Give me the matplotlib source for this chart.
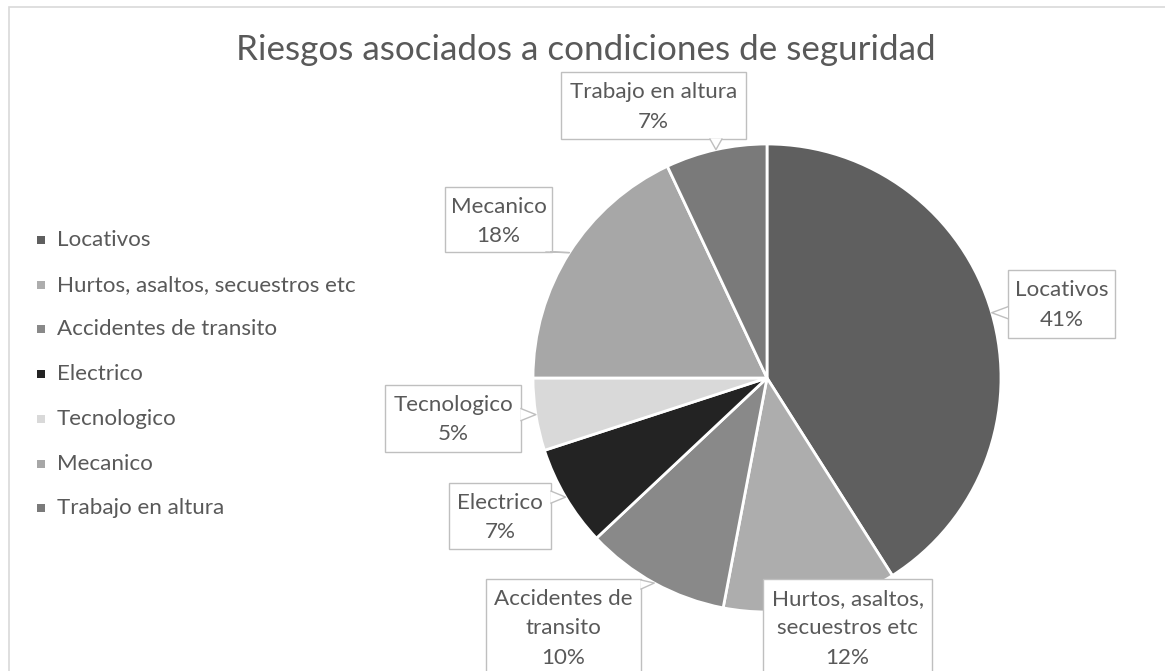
import matplotlib
matplotlib.use("Agg")
import numpy as np
import matplotlib.pyplot as plt
from matplotlib.patches import Rectangle, Polygon

# data
categories = ["Locativos", "Hurtos, asaltos, secuestros etc", "Accidentes de transito",
              "Electrico", "Tecnologico", "Mecanico", "Trabajo en altura"]
label_names = ["Locativos", "Hurtos, asaltos,\nsecuestros etc", "Accidentes de\ntransito",
               "Electrico", "Tecnologico", "Mecanico", "Trabajo en altura"]
values = [41, 12, 10, 7, 5, 18, 7]
colors = ["#5f5f5f", "#adadad", "#898989", "#232323", "#d9d9d9", "#a7a7a7", "#7a7a7a"]
title = "Riesgos asociados a condiciones de seguridad"

# label boxes in pixels (left, top, right, bottom)
boxes = [(1008, 270, 1115, 338), (763, 579, 932, 700), (486, 579, 641, 700),
         (449, 483, 551, 549), (385, 385, 521, 452), (445, 187, 552, 252),
         (561, 72, 746, 139)]

W, H = 1165, 671
txt_color = "#595959"
plt.rcParams['font.family'] = ['Lato', 'DejaVu Sans']

fig = plt.figure(figsize=(W / 100, H / 100), dpi=100)
ax = fig.add_axes([0, 0, 1, 1])

cx, cy, rad = 767, H - 378, 234
wedges, _ = ax.pie(values, colors=colors, startangle=90, counterclock=False,
                   center=(cx, cy), radius=rad, frame=False,
                   wedgeprops=dict(edgecolor="white", linewidth=2))
ax.set_xlim(0, W)
ax.set_ylim(0, H)
ax.set_aspect("auto")
ax.axis("off")

# chart border (top and left visible)
ax.add_patch(Rectangle((9, -20), W + 20, H - 7 + 20, fill=False, ec="#d9d9d9", lw=1.2, zorder=0))

fig.canvas.draw()
rend = fig.canvas.get_renderer()

def fit(t, target):
    w = t.get_window_extent(rend).width
    t.set_fontsize(t.get_fontsize() * target / w)

t_title = ax.text(586, H - 50, title, ha="center", va="center", fontsize=20,
                  color=txt_color)
fit(t_title, 698)

# legend
probe = ax.text(57, 0, categories[1], fontsize=11)
fit(probe, 298)
fs = probe.get_fontsize()
probe.remove()
for i, name in enumerate(categories):
    y = H - (240 + i * 44.7)
    ax.add_patch(Rectangle((37, y - 4), 8, 8, color=colors[i], lw=0))
    ax.text(57, y, name, ha="left", va="center", fontsize=fs, color=txt_color)

# data labels with callouts
total = sum(values)
for i, w in enumerate(wedges):
    l, t, r, b = boxes[i]
    top, bot = H - t, H - b
    ax.add_patch(Rectangle((l, bot), r - l, top - bot, fc="white", ec="#bfbfbf", lw=1, zorder=4))
    lines = label_names[i].split("\n") + ["%d%%" % round(100 * values[i] / total)]
    for k, s in enumerate(lines):
        ax.text((l + r) / 2, top - 20 - k * 29.5, s, ha="center", va="center",
                fontsize=fs, color=txt_color, zorder=6)
    mid = np.radians((w.theta1 + w.theta2) / 2)
    tx, ty = cx + rad * np.cos(mid), cy + rad * np.sin(mid)
    px, py = np.clip(tx, l, r), np.clip(ty, bot, top)
    if px == tx and py == ty:
        continue
    if px in (l, r) and bot < ty < top:
        b1, b2 = (px, max(py - 6, bot + 1)), (px, min(py + 6, top - 1))
    else:
        b1, b2 = (max(px - 6, l + 1), py), (min(px + 6, r - 1), py)
    ax.add_patch(Polygon([b1, (tx, ty), b2], closed=True, fc="white", ec="none", zorder=5))
    ax.plot([b1[0], tx, b2[0]], [b1[1], ty, b2[1]], color="#bfbfbf", lw=1, zorder=5)

fig.savefig("out.png", dpi=100)
